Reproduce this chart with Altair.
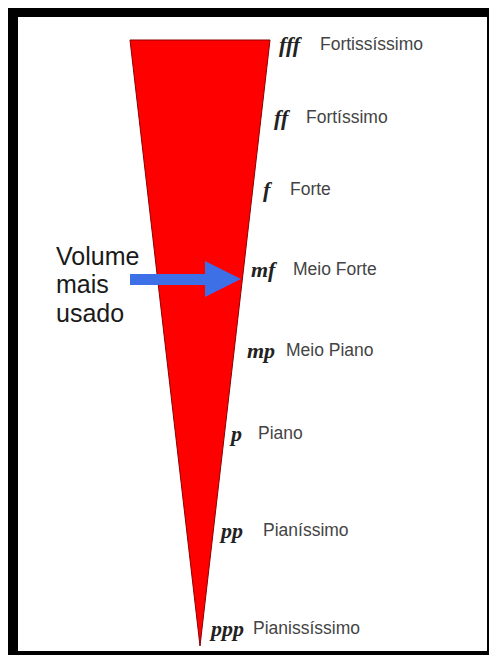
import altair as alt
import pandas as pd

# Dynamic levels (top = loudest)
symbols = ["fff", "ff", "f", "mf", "mp", "p", "pp", "ppp"]
names = ["Fortissíssimo", "Fortíssimo", "Forte", "Meio Forte",
         "Meio Piano", "Piano", "Pianíssimo", "Pianissíssimo"]
level_y = [45, 118, 190, 270, 351, 434, 531, 629]
sym_x = [279, 274, 263, 251, 247, 231, 221, 211]
name_x = [320, 306, 290, 293, 286, 258, 263, 253]

# Wedge (crescendo shape): width shrinks to a point
wedge_y = [40, 646]
wedge_left = [130, 200]
wedge_right = [270, 200]

# Arrow "Volume mais usado"
shaft_x = [130, 207]
shaft_y = [274, 285]
head_y = [261, 279, 297]
head_left = [205, 205, 205]
head_right = [205, 241, 205]
caption = ["Volume", "mais", "usado"]
caption_y = [265, 293, 322]
caption_x = [56, 56, 56]

W, H = 469, 634
xs = alt.Scale(domain=[18, 487], nice=False, zero=False)
ys = alt.Scale(domain=[17, 651], nice=False, zero=False, reverse=True)

levels = pd.DataFrame({"sym": symbols, "name": names, "y": level_y,
                       "sx": sym_x, "nx": name_x})
wedge = pd.DataFrame({"y": wedge_y, "l": wedge_left, "r": wedge_right})
shaft = pd.DataFrame({"x": [shaft_x[0]], "x2": [shaft_x[1]],
                      "y": [shaft_y[0]], "y2": [shaft_y[1]]})
head = pd.DataFrame({"y": head_y, "l": head_left, "r": head_right})
cap = pd.DataFrame({"t": caption, "x": caption_x, "y": caption_y})

wedge_layer = alt.Chart(wedge).mark_area(
    orient="horizontal", color="#ff0000", stroke="#8a0000", strokeWidth=1
).encode(
    y=alt.Y("y:Q", scale=ys, axis=None),
    x=alt.X("l:Q", scale=xs, axis=None),
    x2="r:Q",
)

shaft_layer = alt.Chart(shaft).mark_rect(color="#3d6fe6").encode(
    x=alt.X("x:Q", scale=xs, axis=None), x2="x2:Q",
    y=alt.Y("y:Q", scale=ys, axis=None), y2="y2:Q",
)

head_layer = alt.Chart(head).mark_area(
    orient="horizontal", color="#3d6fe6"
).encode(
    y=alt.Y("y:Q", scale=ys, axis=None),
    x=alt.X("l:Q", scale=xs, axis=None),
    x2="r:Q",
)

sym_layer = alt.Chart(levels).mark_text(
    font="Liberation Serif", fontStyle="italic", fontWeight="bold",
    fontSize=22, align="left", baseline="middle", color="#222222"
).encode(
    x=alt.X("sx:Q", scale=xs, axis=None),
    y=alt.Y("y:Q", scale=ys, axis=None),
    text="sym:N",
)

name_layer = alt.Chart(levels).mark_text(
    font="Liberation Sans", fontSize=17.5, align="left", baseline="middle",
    color="#444444"
).encode(
    x=alt.X("nx:Q", scale=xs, axis=None),
    y=alt.Y("y:Q", scale=ys, axis=None),
    text="name:N",
)

cap_layer = alt.Chart(cap).mark_text(
    font="Liberation Sans", fontSize=25, align="left", baseline="alphabetic",
    color="#1a1a1a"
).encode(
    x=alt.X("x:Q", scale=xs, axis=None),
    y=alt.Y("y:Q", scale=ys, axis=None),
    text="t:N",
)

chart = alt.layer(
    wedge_layer, shaft_layer, head_layer, sym_layer, name_layer, cap_layer
).properties(
    width=W, height=H,
    autosize=alt.AutoSizeParams(type="none"),
    padding={"left": 10, "top": 9, "right": 2, "bottom": 4},
    background="#000000",
).configure_view(fill="#ffffff", stroke=None)

chart.save("out.html", embed_options={"renderer": "svg", "actions": False})
